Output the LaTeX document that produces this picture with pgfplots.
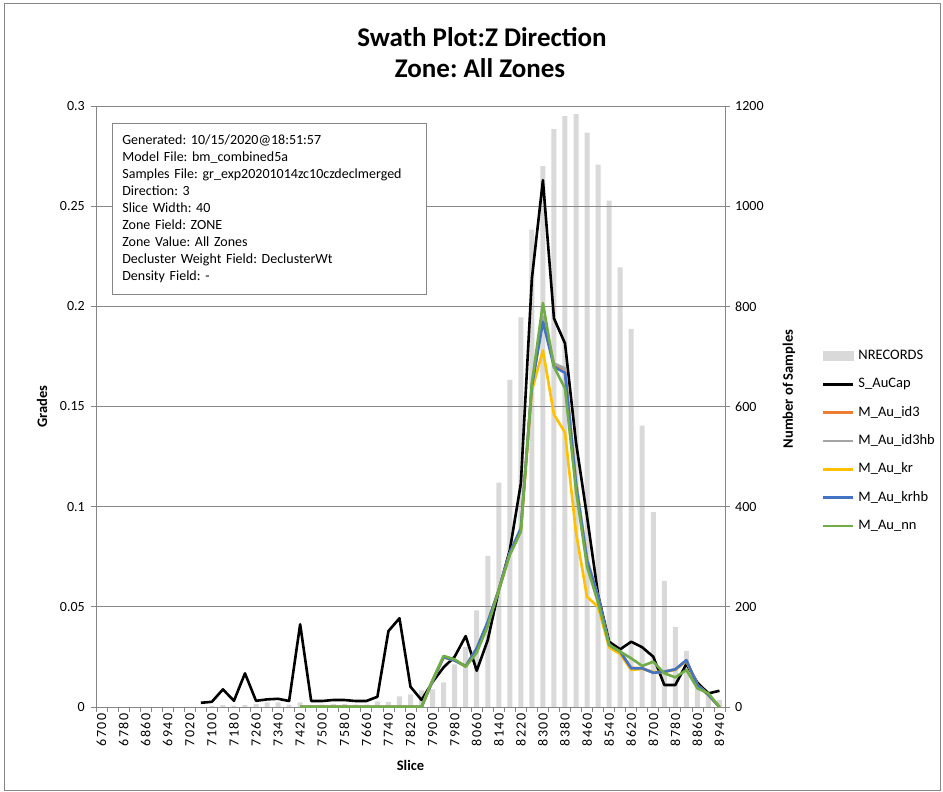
\documentclass[border=0pt]{standalone}
\usepackage{pgfplots}
\pgfplotsset{compat=1.18}
\usepackage{pgfplotstable}
\usepackage{fontspec}
\setmainfont{Carlito}
\frenchspacing
\definecolor{barcol}{RGB}{217,217,217}
\definecolor{gridcol}{RGB}{134,134,134}
\definecolor{cid}{RGB}{237,125,49}
\definecolor{cidhb}{RGB}{165,165,165}
\definecolor{ckr}{RGB}{255,192,0}
\definecolor{ckrhb}{RGB}{68,114,196}
\definecolor{cnn}{RGB}{112,173,71}
\newcommand\ticksize{\fontsize{14}{16}\selectfont}
\newcommand\axtitle{\fontsize{14.5}{17}\selectfont\bfseries}

\pgfplotstableread{
slice n
7100 2
7140 4
7180 3
7220 4
7260 6
7300 9
7340 9
7380 5
7420 9
7460 4
7500 5
7540 6
7580 6
7620 5
7660 5
7700 11
7740 10
7780 21
7820 25
7860 33
7900 35
7940 49
7980 85
8020 120
8060 193
8100 302
8140 448
8180 653
8220 778
8260 953
8300 1080
8340 1154
8380 1180
8420 1184
8460 1147
8500 1083
8540 1011
8580 878
8620 755
8660 562
8700 389
8740 252
8780 160
8820 112
8860 50
8900 30
8940 14
}\bars

\pgfplotstableread{
slice S id3 id3hb kr krhb nn
7060 0.0021 nan nan nan nan nan
7100 0.0026 nan nan nan nan nan
7140 0.0088 nan nan nan nan nan
7180 0.0031 nan nan nan nan nan
7220 0.0168 nan nan nan nan nan
7260 0.0031 nan nan nan nan nan
7300 0.0038 nan nan nan nan nan
7340 0.0041 nan nan nan nan nan
7380 0.0030 nan nan nan nan nan
7420 0.0413 0 0 0 0 0
7460 0.0030 0 0 0 0 0
7500 0.0030 0 0 0 0 0
7540 0.0035 0 0 0 0 0
7580 0.0035 0 0 0 0 0
7620 0.0030 0 0 0 0 0
7660 0.0030 0 0 0 0 0
7700 0.0051 0 0 0 0 0
7740 0.0379 0 0 0 0 0
7780 0.0443 0 0 0 0 0
7820 0.0101 0 0 0 0 0
7860 0.0035 0 0 0 0 0
7900 0.0125 0.0132 0.0132 0.0130 0.0130 0.0135
7940 0.0198 0.0250 0.0250 0.0248 0.0249 0.0255
7980 0.0251 0.0233 0.0233 0.0232 0.0232 0.0238
8020 0.0354 0.0203 0.0203 0.0205 0.0204 0.0201
8060 0.0181 0.0290 0.0290 0.0290 0.0293 0.0271
8100 0.0334 0.0420 0.0420 0.0420 0.0426 0.0404
8140 0.0584 0.0584 0.0584 0.0584 0.0584 0.0584
8180 0.0783 0.0768 0.0768 0.0765 0.0770 0.0759
8220 0.1116 0.0888 0.0888 0.0880 0.0892 0.0875
8260 0.2139 0.1605 0.1610 0.1580 0.1600 0.1615
8300 0.2630 0.1940 0.1950 0.1780 0.1923 0.2017
8340 0.1940 0.1710 0.1715 0.1460 0.1698 0.1698
8380 0.1815 0.1685 0.1690 0.1370 0.1668 0.1590
8420 0.1320 0.1120 0.1120 0.0870 0.1110 0.1080
8460 0.0950 0.0735 0.0740 0.0550 0.0730 0.0700
8500 0.0560 0.0550 0.0550 0.0500 0.0550 0.0520
8540 0.0326 0.0310 0.0310 0.0298 0.0310 0.0310
8580 0.0288 0.0276 0.0276 0.0264 0.0276 0.0276
8620 0.0326 0.0195 0.0195 0.0185 0.0193 0.0243
8660 0.0298 0.0193 0.0193 0.0190 0.0193 0.0205
8700 0.0251 0.0172 0.0172 0.0175 0.0171 0.0226
8740 0.0110 0.0176 0.0176 0.0176 0.0176 0.0168
8780 0.0110 0.0188 0.0188 0.0185 0.0188 0.0148
8820 0.0215 0.0232 0.0232 0.0230 0.0234 0.0185
8860 0.0121 0.0110 0.0110 0.0110 0.0110 0.0093
8900 0.0068 0.0060 0.0060 0.0060 0.0060 0.0068
8940 0.0081 0 0 0 0 0
}\lines

\pgfplotsset{
  common/.style={
    scale only axis, width=629pt, height=601pt,
    at={(96pt,-707pt)}, anchor=south west,
    xmin=6680, xmax=8960,
    axis line style={draw=gridcol, line width=0.8pt},
    tick align=outside, major tick length=5pt, minor tick length=5pt,
    tick style={draw=gridcol, line width=0.8pt},
    tick label style={font=\ticksize},
  },
  lineimg/.style={legend image code/.code={\draw[##1, line width=2.6pt] (0pt,0pt) -- (30pt,0pt);}},
}

\begin{document}
\begin{tikzpicture}
\useasboundingbox (0pt,0pt) rectangle (943pt,-792pt);
\fill[white] (0pt,0pt) rectangle (943pt,-792pt);
\draw[gridcol, line width=0.8pt] (4pt,-3pt) rectangle (940pt,-790pt);
\node[font=\fontsize{27}{30}\selectfont\bfseries] at (482pt,-37pt) {Swath Plot:Z Direction};
\node[font=\fontsize{27}{30}\selectfont\bfseries] at (480pt,-68pt) {Zone: All Zones};

% secondary axis: number of samples (bars)
\begin{axis}[common,
  ymin=0, ymax=1200,
  axis x line=none, axis y line*=right,
  ytick={0,200,400,600,800,1000,1200},
  yticklabels={0,200,400,600,800,1000,1200},
  yticklabel style={inner sep=0pt, xshift=5pt},
  ylabel={Number of Samples},
  ylabel style={font=\axtitle, at={(axis description cs:1.1017,0.529)}, anchor=center},
]
\addplot[ybar, bar width=5pt, fill=barcol, draw=none] table[x=slice, y=n]{\bars};
\end{axis}

% primary axis: grades (lines)
\begin{axis}[common,
  ymin=0, ymax=0.3,
  ymajorgrids, grid style={draw=gridcol, line width=0.8pt},
  xtick pos=left, ytick pos=left,
  xtick={6700,6780,...,8940},
  xticklabels={6700,6780,6860,6940,7020,7100,7180,7260,7340,7420,7500,7580,7660,7740,7820,7900,7980,8060,8140,8220,8300,8380,8460,8540,8620,8700,8780,8860,8940},
  minor xtick={6680,6720,...,8960},
  every major x tick/.append style={draw=none},
  xticklabel style={rotate=90, anchor=east, inner sep=1pt, font=\ticksize\addfontfeature{LetterSpace=12}},
  ytick={0,0.05,0.1,0.15,0.2,0.25,0.3},
  yticklabels={0,0.05,0.1,0.15,0.2,0.25,0.3},
  yticklabel style={inner sep=0pt, xshift=-6pt},
  xlabel={Slice}, ylabel={Grades},
  xlabel style={font=\axtitle, at={(axis description cs:0.5,-0.0965)}, anchor=center},
  ylabel style={font=\axtitle, at={(axis description cs:-0.0858,0.5)}, anchor=center},
  legend style={at={(axis description cs:1.1537,0.595)}, anchor=north west, draw=none, fill=none,
    font=\fontsize{14.5}{17}\selectfont, row sep=15.3pt, inner sep=0pt,
    nodes={text height=10pt, text depth=3pt, inner xsep=4pt, inner ysep=0pt}},
  legend cell align=left,
  unbounded coords=jump,
]
\addlegendimage{legend image code/.code={\fill[barcol] (0pt,-4.5pt) rectangle (30pt,4.5pt);}}
\addlegendentry{NRECORDS}
\addplot[lineimg, black, line width=2.6pt, line join=round] table[x=slice, y=S]{\lines};
\addlegendentry{S\_AuCap}
\addplot[lineimg, cid, line width=2.6pt, line join=round] table[x=slice, y=id3]{\lines};
\addlegendentry{M\_Au\_id3}
\addplot[lineimg, cidhb, line width=2.6pt, line join=round] table[x=slice, y=id3hb]{\lines};
\addlegendentry{M\_Au\_id3hb}
\addplot[lineimg, ckr, line width=2.6pt, line join=round] table[x=slice, y=kr]{\lines};
\addlegendentry{M\_Au\_kr}
\addplot[lineimg, ckrhb, line width=2.6pt, line join=round] table[x=slice, y=krhb]{\lines};
\addlegendentry{M\_Au\_krhb}
\addplot[lineimg, cnn, line width=2.6pt, line join=round] table[x=slice, y=nn]{\lines};
\addlegendentry{M\_Au\_nn}
\node[draw=gridcol, line width=0.8pt, anchor=north west, fill=white, inner xsep=10pt, inner ysep=8pt,
  text width=294pt, minimum height=171pt, align=left, font=\fontsize{14}{17}\selectfont]
  at (axis description cs:0.0254,0.9717)
  {Generated: 10/15/2020@18:51:57\\
   Model File: bm\_combined5a\\
   Samples File: gr\_exp20201014zc10czdeclmerged\\
   Direction: 3\\
   Slice Width: 40\\
   Zone Field: ZONE\\
   Zone Value: All Zones\\
   Decluster Weight Field: DeclusterWt\\
   Density Field: -};
\end{axis}
\end{tikzpicture}
\end{document}
